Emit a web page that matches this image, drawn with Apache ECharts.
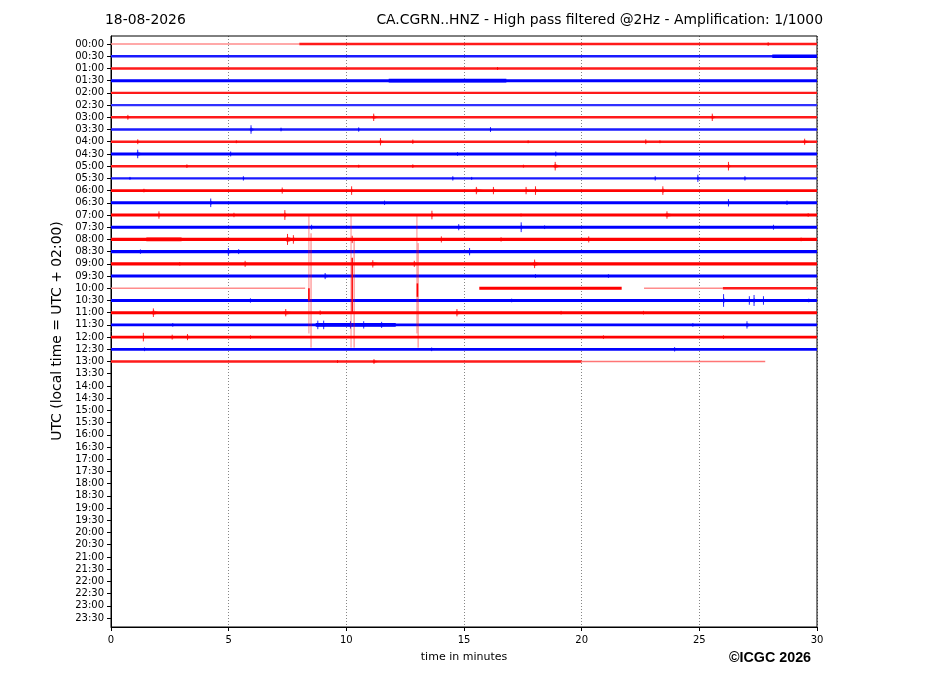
<!DOCTYPE html>
<html>
  <head>
    <meta charset="utf-8" />
    <title>Helicorder</title>
    <script src="https://cdn.jsdelivr.net/npm/echarts@6.0.0/dist/echarts.min.js"></script>
    <style>body{margin:0;background:#fff}</style>
  </head>
  <body>
    <div id="main" style="width: 927px;height:696px;"></div>
    <script type="text/javascript">
// row labels (UTC), one row = 30 minutes of trace
const rowLabels = ['00:00','00:30','01:00','01:30','02:00','02:30','03:00','03:30',
  '04:00','04:30','05:00','05:30','06:00','06:30','07:00','07:30','08:00','08:30',
  '09:00','09:30','10:00','10:30','11:00','11:30','12:00','12:30','13:00','13:30',
  '14:00','14:30','15:00','15:30','16:00','16:30','17:00','17:30','18:00','18:30',
  '19:00','19:30','20:00','20:30','21:00','21:30','22:00','22:30','23:00','23:30'];
const xTicks = [0, 5, 10, 15, 20, 25, 30];

// [row, start min, end min, noise level (rows)]
const traceSegments = [
  [0, 0, 8, 0.05], [0, 8, 30, 0.1],
  [1, 0, 30, 0.1], [1, 28.1, 30, 0.14],
  [2, 0, 30, 0.1],
  [3, 0, 30, 0.12], [3, 11.8, 16.8, 0.15],
  [4, 0, 30, 0.1],
  [5, 0, 30, 0.09],
  [6, 0, 30, 0.1],
  [7, 0, 30, 0.1],
  [8, 0, 30, 0.1],
  [9, 0, 30, 0.12],
  [10, 0, 30, 0.1],
  [11, 0, 30, 0.1],
  [12, 0, 30, 0.11],
  [13, 0, 30, 0.12],
  [14, 0, 30, 0.12],
  [15, 0, 30, 0.12],
  [16, 0, 30, 0.13], [16, 1.5, 3.0, 0.15],
  [17, 0, 30, 0.13],
  [18, 0, 30, 0.13],
  [19, 0, 30, 0.12],
  [20, 0, 8.25, 0.05], [20, 15.65, 21.7, 0.12], [20, 22.65, 26, 0.05], [20, 26, 30, 0.1],
  [21, 0, 30, 0.12],
  [22, 0, 30, 0.12],
  [23, 0, 30, 0.12], [23, 8.7, 12.1, 0.15],
  [24, 0, 30, 0.12],
  [25, 0, 30, 0.11],
  [26, 0, 20, 0.1], [26, 20, 27.8, 0.06]
];

// [row, minute, amplitude (rows), duration (min)]
const bursts = [
  [0, 27.9, 0.15, 0.1],
  [2, 16.4, 0.12, 0.1],
  [6, 0.68, 0.2, 0.15], [6, 11.1, 0.3, 0.25], [6, 25.5, 0.3, 0.2],
  [7, 5.9, 0.35, 0.2], [7, 7.2, 0.15, 0.1], [7, 10.5, 0.18, 0.1], [7, 16.1, 0.2, 0.1],
  [8, 1.1, 0.2, 0.15], [8, 5.3, 0.12, 0.1], [8, 11.4, 0.3, 0.2], [8, 12.8, 0.18, 0.1],
  [8, 17.7, 0.12, 0.1], [8, 22.7, 0.2, 0.1], [8, 23.3, 0.12, 0.1], [8, 29.4, 0.25, 0.3],
  [9, 1.06, 0.35, 0.3], [9, 5.06, 0.2, 0.1], [9, 14.7, 0.15, 0.1], [9, 18.8, 0.2, 0.4],
  [10, 3.2, 0.15, 0.1], [10, 10.5, 0.12, 0.1], [10, 12.8, 0.15, 0.1], [10, 17.5, 0.12, 0.1],
  [10, 18.8, 0.35, 0.3], [10, 26.2, 0.35, 0.15],
  [11, 0.78, 0.12, 0.1], [11, 5.6, 0.18, 0.1], [11, 14.5, 0.18, 0.1], [11, 15.3, 0.12, 0.1],
  [11, 23.1, 0.18, 0.1], [11, 24.9, 0.3, 0.15], [11, 26.9, 0.18, 0.15],
  [12, 1.3, 0.15, 0.4], [12, 7.2, 0.25, 0.3], [12, 10.2, 0.35, 0.1], [12, 15.4, 0.3, 0.5],
  [12, 16.2, 0.3, 0.2], [12, 17.6, 0.3, 0.15], [12, 18.0, 0.35, 0.15], [12, 23.4, 0.35, 0.2],
  [13, 4.2, 0.35, 0.15], [13, 11.6, 0.18, 0.1], [13, 26.2, 0.3, 0.15], [13, 28.7, 0.18, 0.1],
  [14, 2.0, 0.3, 0.15], [14, 5.2, 0.18, 0.1], [14, 7.35, 0.4, 0.15], [14, 13.6, 0.35, 0.15],
  [14, 17.4, 0.12, 0.1], [14, 23.5, 0.3, 0.5], [14, 29.6, 0.15, 0.1],
  [15, 8.5, 0.2, 0.1], [15, 14.7, 0.25, 0.3], [15, 17.4, 0.4, 0.12], [15, 18.4, 0.15, 0.1],
  [15, 28.1, 0.2, 0.2],
  [16, 7.4, 0.45, 0.4], [16, 7.7, 0.35, 0.2], [16, 10.2, 0.3, 0.2], [16, 14.0, 0.25, 0.15],
  [16, 16.5, 0.18, 0.3], [16, 20.2, 0.25, 0.4], [16, 29.3, 0.15, 0.1],
  [17, 1.2, 0.18, 0.2], [17, 4.9, 0.3, 0.35], [17, 5.4, 0.2, 0.1], [17, 15.2, 0.3, 0.15],
  [18, 2.9, 0.15, 0.1], [18, 5.6, 0.25, 0.4], [18, 11.0, 0.3, 0.5], [18, 12.8, 0.25, 0.35],
  [18, 17.9, 0.35, 0.4],
  [19, 9.0, 0.25, 0.4], [19, 18.0, 0.15, 0.15], [19, 21.1, 0.15, 0.15],
  [21, 5.9, 0.18, 0.1], [21, 17.0, 0.15, 0.1], [21, 26.0, 0.52, 0.12], [21, 27.1, 0.35, 0.1],
  [21, 27.3, 0.45, 0.1], [21, 27.7, 0.35, 0.1], [21, 29.6, 0.15, 0.2],
  [22, 1.7, 0.35, 0.4], [22, 7.3, 0.3, 0.5], [22, 8.85, 0.18, 0.15], [22, 14.6, 0.3, 0.4],
  [22, 19.1, 0.15, 0.1], [22, 22.6, 0.15, 0.1],
  [23, 2.6, 0.15, 0.1], [23, 8.75, 0.35, 0.15], [23, 9.0, 0.35, 0.15], [23, 10.1, 0.3, 0.3],
  [23, 10.7, 0.3, 0.15], [23, 11.3, 0.25, 0.8], [23, 24.7, 0.15, 0.1], [23, 26.95, 0.3, 0.3],
  [24, 1.35, 0.35, 0.1], [24, 2.5, 0.2, 0.4], [24, 3.15, 0.25, 0.4], [24, 5.9, 0.15, 0.1],
  [24, 20.9, 0.15, 0.1], [24, 26.0, 0.15, 0.1],
  [25, 1.4, 0.15, 0.1], [25, 13.6, 0.15, 0.1], [25, 23.9, 0.18, 0.2],
  [26, 9.6, 0.12, 0.1], [26, 11.1, 0.2, 0.3]
];

// large clipped swings: [minute, top row, bottom row, strength]
const spikes = [
  [8.41, 14.03, 23.7, 0.45], [8.5, 15.5, 24.86, 0.55],
  [10.2, 14.03, 24.86, 0.45], [10.33, 16.0, 24.86, 0.55],
  [13.0, 14.03, 23.7, 0.45], [13.05, 16.3, 24.86, 0.55],
  [8.41, 20.0, 21.0, 1], [10.25, 17.5, 22.0, 0.9], [13.02, 19.6, 20.7, 1]
];

function rowColor(row) {
  return row % 2 === 0 ? '#ff0000' : '#0000ff';
}
// blend a trace colour towards white (no alpha)
function pale(col, t) {
  return echarts.color.lerp(Math.max(0, Math.min(1, t)), ['#ffffff', col]);
}

var chartDom = document.getElementById('main');
var myChart = echarts.init(chartDom);
var option;
var rowIdx = rowLabels.map(function (l, i) { return i; });
var FONT = 'DejaVu Sans';
var Y_MIN = -0.66, Y_MAX = 47.74, PLOT_H = 696 - 36 - 69;
var pxPerRow = PLOT_H / (Y_MAX - Y_MIN);

// one plain line series per recorded stretch of trace
var traceSeries = traceSegments.map(function (seg, i) {
  var row = seg[0], lvl = seg[3];
  return {
    type: 'line', name: 'trace' + i, z: 10, silent: true,
    symbol: 'none', showSymbol: false, clip: false,
    data: [[seg[1], row], [seg[2], row]],
    lineStyle: {
      color: pale(rowColor(row), lvl * 9),
      width: Math.max(1.5, lvl * 2 * pxPerRow)
    }
  };
});

option = {
  animation: false,
  grid: {
    left: 111, right: 110, top: 36, bottom: 69,
    show: true, borderColor: '#000', borderWidth: 1
  },
  xAxis: {
    type: 'value', min: 0, max: 30, interval: 5,
    name: 'time in minutes', nameLocation: 'middle', nameGap: 25,
    nameTextStyle: { fontFamily: FONT, fontSize: 11, color: '#000' },
    axisLine: { show: true, onZero: false, lineStyle: { color: '#000', width: 1 } },
    axisTick: { show: true, length: 4, lineStyle: { color: '#000' } },
    axisLabel: {
      fontFamily: FONT, fontSize: 10, color: '#000', margin: 8,
      formatter: function (v) { return xTicks.indexOf(v) >= 0 ? String(v) : ''; },
      showMinLabel: true, showMaxLabel: true
    },
    splitLine: { show: true, lineStyle: { color: '#000', width: 0.6, type: [1, 2], opacity: 0.8 } }
  },
  yAxis: {
    type: 'value', inverse: true, min: Y_MIN, max: Y_MAX,
    axisLine: { show: true, onZero: false, lineStyle: { color: '#000', width: 1 } },
    axisTick: { show: true, length: 4, customValues: rowIdx, lineStyle: { color: '#000' } },
    axisLabel: {
      fontFamily: FONT, fontSize: 10, color: '#000', margin: 7,
      customValues: rowIdx,
      formatter: function (v) { return rowLabels[Math.round(v)]; }
    },
    splitLine: { show: false }
  },
  graphic: [
    { type: 'text', left: 105, top: 13, silent: true,
      style: { text: '18-08-2026', font: '13.9px "DejaVu Sans"', fill: '#000' } },
    { type: 'text', right: 104, top: 13, silent: true,
      style: { text: 'CA.CGRN..HNZ - High pass filtered @2Hz - Amplification: 1/1000',
        font: '13.9px "DejaVu Sans"', fill: '#000' } },
    { type: 'text', x: 57, y: 331, rotation: Math.PI / 2, silent: true,
      style: { text: 'UTC (local time = UTC + 02:00)', font: '13.9px "DejaVu Sans"',
        fill: '#000', align: 'center', verticalAlign: 'middle' } },
    { type: 'text', x: 729, y: 658, silent: true,
      style: { text: '©ICGC 2026', font: 'bold 14.3px "Liberation Sans"', fill: '#000',
        align: 'left', verticalAlign: 'middle' } }
  ],
  series: traceSeries.concat([
    {
      type: 'custom', name: 'bursts', z: 11,
      dimensions: ['row', 'minute', 'amp', 'dur'],
      encode: { x: 'minute', y: 'row' },
      data: bursts,
      renderItem: function (params, api) {
        var row = api.value('row'), m = api.value('minute'), amp = api.value('amp'), dur = api.value('dur');
        var col = rowColor(row);
        var pk = m + dur * 0.25;
        var pts = [[m - dur * 0.1, row], [pk, row - amp * 0.55], [m + dur, row], [pk, row + amp * 0.55]]
          .map(function (p) { return api.coord(p); });
        var a = api.coord([pk, row - amp]), b = api.coord([pk, row + amp]);
        return {
          type: 'group',
          children: [
            { type: 'polygon', shape: { points: pts }, style: { fill: col, opacity: 0.55 } },
            { type: 'line', shape: { x1: a[0], y1: a[1], x2: b[0], y2: b[1] },
              style: { stroke: col, lineWidth: 1, opacity: 0.85 } }
          ]
        };
      }
    },
    {
      type: 'custom', name: 'spikes', z: 12,
      dimensions: ['minute', 'top', 'bottom', 'strength'],
      encode: { x: 'minute', y: ['top', 'bottom'] },
      data: spikes,
      renderItem: function (params, api) {
        var a = api.coord([api.value('minute'), api.value('top')]);
        var b = api.coord([api.value('minute'), api.value('bottom')]);
        var st = api.value('strength');
        return { type: 'line', shape: { x1: a[0], y1: a[1], x2: b[0], y2: b[1] },
          style: { stroke: '#ff0000', lineWidth: st > 0.8 ? 1.6 : 1, opacity: st } };
      }
    }
  ])
};

option && myChart.setOption(option);
    </script>
  </body>
</html>
